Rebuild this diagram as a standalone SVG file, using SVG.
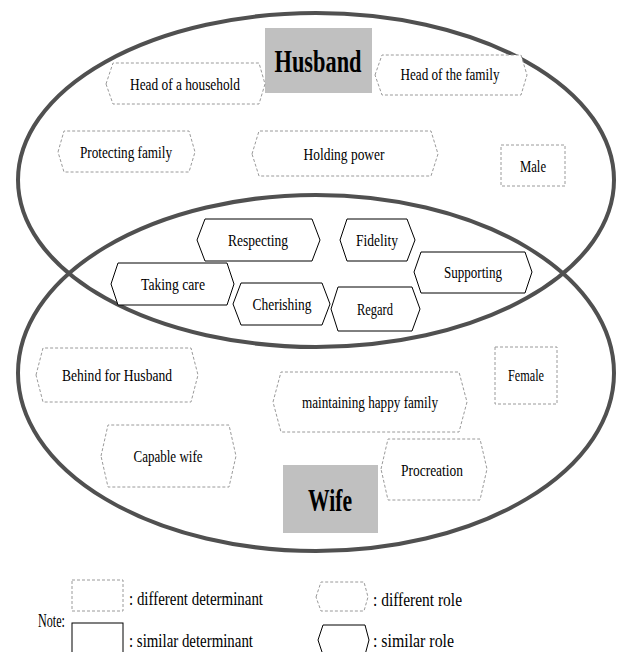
<svg xmlns="http://www.w3.org/2000/svg" width="621" height="652" viewBox="0 0 621 652">
<style>
text{font-family:"Liberation Serif","Times New Roman",serif;fill:#000;}
.lbl{font-size:16px;text-anchor:middle;}
.big{font-size:31px;font-weight:bold;text-anchor:middle;}
.leg{font-size:18px;}
.dash{fill:#fff;stroke:#9a9a9a;stroke-width:1;stroke-dasharray:3,2;}
.solid{fill:#fff;stroke:#000;stroke-width:1;}
.ell{fill:none;stroke:#505050;stroke-width:4;}
.core{fill:#c0c0c0;stroke:none;}
</style>
<rect width="621" height="652" fill="#fff"/>
<g id="circles">
<ellipse class="ell" cx="316" cy="180" rx="298" ry="167"/>
<ellipse class="ell" cx="316" cy="373" rx="298" ry="178"/>
</g>
<g id="husband"><rect class="core" x="265" y="28" width="107" height="65"/><text class="big" x="318" y="72" textLength="87" lengthAdjust="spacingAndGlyphs">Husband</text></g>
<g id="head-household"><path class="dash" d="M106,84 L113,63 L259,63 L265,84 L259,104 L113,104 Z"/><text class="lbl" x="185" y="90" textLength="110" lengthAdjust="spacingAndGlyphs">Head of a household</text></g>
<g id="head-family"><path class="dash" d="M375,75 L382,55 L521,55 L527,75 L521,95 L382,95 Z"/><text class="lbl" x="450" y="80" textLength="99" lengthAdjust="spacingAndGlyphs">Head of the family</text></g>
<g id="protecting"><path class="dash" d="M58,152 L64,131 L189,131 L195,152 L189,172 L64,172 Z"/><text class="lbl" x="126" y="158" textLength="92" lengthAdjust="spacingAndGlyphs">Protecting family</text></g>
<g id="holding"><path class="dash" d="M252,154 L259,131 L431,131 L438,154 L431,176 L259,176 Z"/><text class="lbl" x="344" y="160" textLength="81" lengthAdjust="spacingAndGlyphs">Holding power</text></g>
<g id="male"><rect class="dash" x="501" y="145" width="64" height="41"/><text class="lbl" x="533" y="172" textLength="26" lengthAdjust="spacingAndGlyphs">Male</text></g>
<g id="respecting"><path class="solid" d="M197,240 L205,219 L312,219 L320,240 L312,261 L205,261 Z"/><text class="lbl" x="258" y="246" textLength="60" lengthAdjust="spacingAndGlyphs">Respecting</text></g>
<g id="fidelity"><path class="solid" d="M340,240 L347,219 L407,219 L415,240 L407,261 L347,261 Z"/><text class="lbl" x="377" y="246" textLength="42" lengthAdjust="spacingAndGlyphs">Fidelity</text></g>
<g id="supporting"><path class="solid" d="M414,272 L421,252 L525,252 L532,272 L525,293 L421,293 Z"/><text class="lbl" x="473" y="278" textLength="58" lengthAdjust="spacingAndGlyphs">Supporting</text></g>
<g id="taking-care"><path class="solid" d="M111,284 L118,263 L227,263 L234,284 L227,305 L118,305 Z"/><text class="lbl" x="173" y="290" textLength="64" lengthAdjust="spacingAndGlyphs">Taking care</text></g>
<g id="cherishing"><path class="solid" d="M233,304 L241,283 L322,283 L330,304 L322,325 L241,325 Z"/><text class="lbl" x="282" y="310" textLength="59" lengthAdjust="spacingAndGlyphs">Cherishing</text></g>
<g id="regard"><path class="solid" d="M331,309 L338,287 L412,287 L420,309 L412,331 L338,331 Z"/><text class="lbl" x="375" y="315" textLength="36" lengthAdjust="spacingAndGlyphs">Regard</text></g>
<g id="behind"><path class="dash" d="M36,375 L43,348 L191,348 L198,375 L191,402 L43,402 Z"/><text class="lbl" x="117" y="381" textLength="110" lengthAdjust="spacingAndGlyphs">Behind  for Husband</text></g>
<g id="maintaining"><path class="dash" d="M273,402 L281,372 L459,372 L467,402 L459,432 L281,432 Z"/><text class="lbl" x="370" y="408" textLength="136" lengthAdjust="spacingAndGlyphs">maintaining  happy family</text></g>
<g id="female"><rect class="dash" x="495" y="347" width="62" height="57"/><text class="lbl" x="526" y="381" textLength="36" lengthAdjust="spacingAndGlyphs">Female</text></g>
<g id="capable"><path class="dash" d="M101,456 L108,425 L229,425 L236,456 L229,487 L108,487 Z"/><text class="lbl" x="168" y="462" textLength="69" lengthAdjust="spacingAndGlyphs">Capable wife</text></g>
<g id="procreation"><path class="dash" d="M381,469 L388,439 L480,439 L487,469 L480,500 L388,500 Z"/><text class="lbl" x="432" y="476" textLength="62" lengthAdjust="spacingAndGlyphs">Procreation</text></g>
<g id="wife"><rect class="core" x="283" y="465" width="95" height="68"/><text class="big" x="330" y="511" textLength="44" lengthAdjust="spacingAndGlyphs">Wife</text></g>
<g id="legend">
<text class="leg" x="38" y="627" textLength="27" lengthAdjust="spacingAndGlyphs">Note:</text>
<rect class="dash" x="72" y="580" width="51" height="31"/>
<text class="leg" x="129" y="605" textLength="134" lengthAdjust="spacingAndGlyphs">: different determinant</text>
<rect class="solid" x="72" y="623" width="51" height="32"/>
<text class="leg" x="129" y="647" textLength="124" lengthAdjust="spacingAndGlyphs">: similar determinant</text>
<path class="dash" d="M316,597 L321,582 L364,582 L368,597 L364,611 L321,611 Z"/>
<text class="leg" x="373" y="606" textLength="89" lengthAdjust="spacingAndGlyphs">: different role</text>
<path class="solid" d="M318,640 L323,625 L365,625 L369,640 L365,655 L323,655 Z"/>
<text class="leg" x="373" y="647" textLength="81" lengthAdjust="spacingAndGlyphs">: similar role</text>
</g>
</svg>
